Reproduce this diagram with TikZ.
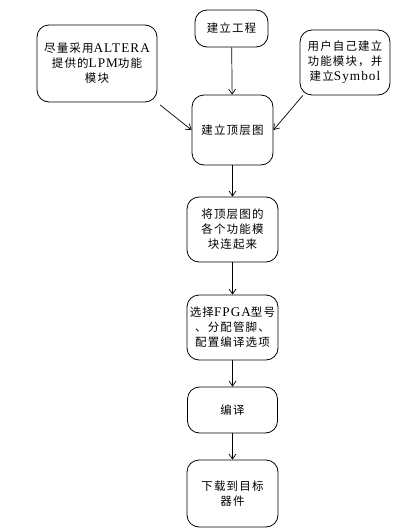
\documentclass[tikz,border=0pt]{standalone}
\usepackage{fontspec}
\setmainfont[LetterSpace=10]{Noto Sans CJK SC}
\newfontfamily\lat[LetterSpace=8,Scale=1.15]{Liberation Serif}
\usetikzlibrary{positioning,arrows.meta}

\begin{document}
\begin{tikzpicture}[x=1pt,y=-1pt,
    stepbox/.style={draw,line width=0.8pt,rounded corners=12pt,align=center,
      font=\fontsize{11.5}{15}\selectfont,inner sep=0pt},
    flow/.style={line width=0.7pt,-{Straight Barb[length=5pt,width=7pt]}}]
    \useasboundingbox (0,0) rectangle (416,530);
    \node[stepbox,minimum width=73pt,minimum height=37pt] (proj) at (231.5,28.5) {建立工程};
    \node[stepbox,minimum width=120pt,minimum height=77pt] (lpm) at (97,63.5)
      {尽量采用{\lat ALTERA}\\提供的{\lat LPM}功能\\模块};
    \node[stepbox,minimum width=90pt,minimum height=65pt] (usr) at (345,62.5)
      {用户自己建立\\功能模块，并\\建立{\lat Symbol}};
    \node[stepbox,minimum width=81pt,minimum height=70pt] (top) at (232.5,130) {建立顶层图};
    \node[stepbox,minimum width=91pt,minimum height=65pt] (link) at (232.5,229.5)
      {将顶层图的\\各个功能模\\块连起来};
    \node[stepbox,minimum width=91pt,minimum height=65pt] (fpga) at (232.5,327.5)
      {选择{\lat FPGA}型号\\、分配管脚、\\配置编译选项};
    \node[stepbox,minimum width=90pt,minimum height=46pt] (comp) at (232.5,410) {编译};
    \node[stepbox,minimum width=91pt,minimum height=67pt] (dl) at (232.5,493.5)
      {下载到目标\\器件};

    \draw[flow] (proj) -- (top);
    \draw[flow,shorten <=4pt] (lpm.-33) -- (top.west);
    \draw[flow] (usr.218) -- (top.east);
    \draw[flow] (top) -- (link);
    \draw[flow] (link) -- (fpga);
    \draw[flow] (fpga) -- (comp);
    \draw[flow] (comp) -- (dl);
\end{tikzpicture}
\end{document}
